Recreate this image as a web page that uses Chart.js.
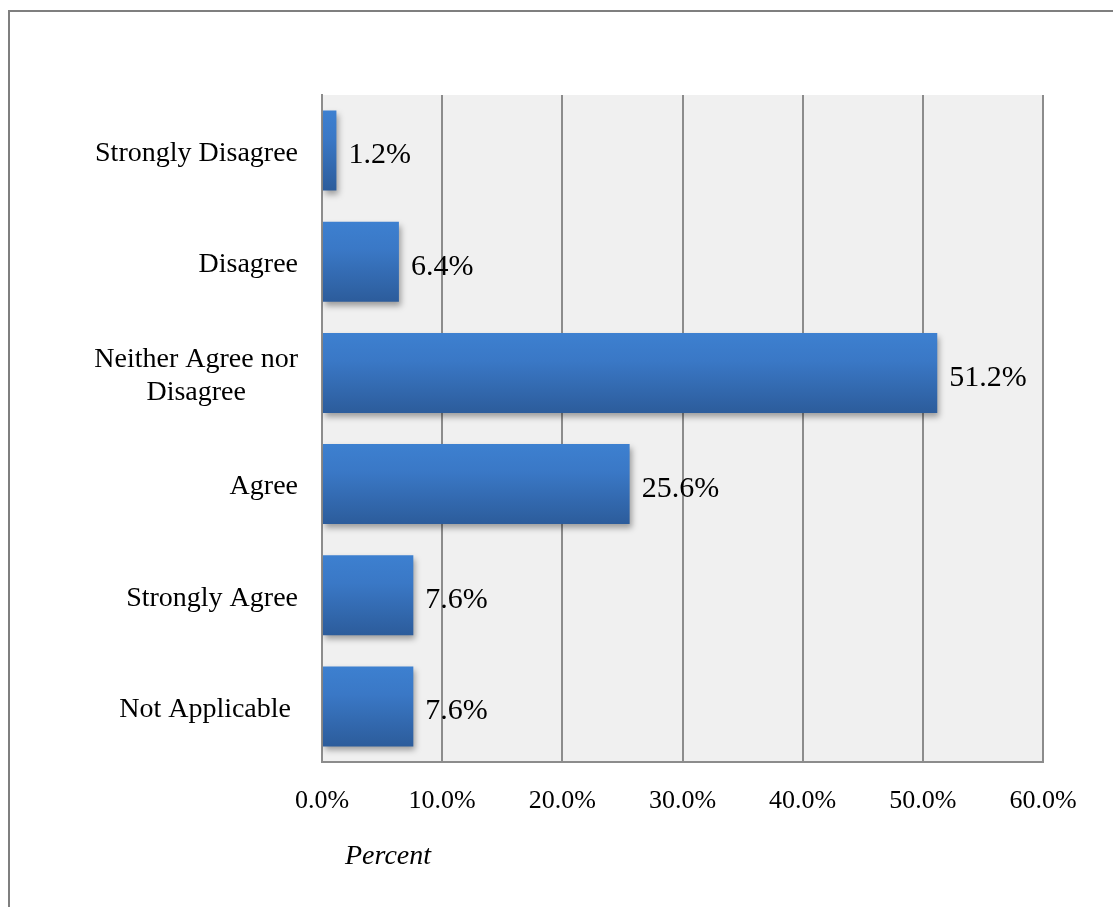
<!DOCTYPE html>
<html>
<head>
<meta charset="utf-8">
<script src="https://cdn.jsdelivr.net/npm/chart.js@4/dist/chart.umd.min.js"></script>
<style>
  html, body { margin: 0; padding: 0; background: #fff; }
  #wrap { position: relative; width: 1113px; height: 907px; }
  #frame { position: absolute; left: 8px; top: 10px; right: 0; bottom: 0;
           border-top: 2px solid #7f7f7f; border-left: 2px solid #7f7f7f; }
  canvas { position: absolute; left: 0; top: 0; }
</style>
</head>
<body>
<div id="wrap">
  <div id="frame"></div>
  <canvas id="myCanvas" width="1113" height="907"></canvas>
</div>
<script>
const categories = ["Strongly Disagree", "Disagree", ["Neither Agree nor", "Disagree"], "Agree", "Strongly Agree", "Not Applicable "];
const percents = [1.2, 6.4, 51.2, 25.6, 7.6, 7.6];
const tickValues = [0, 10, 20, 30, 40, 50, 60];
const axisTitle = "Percent";

const serif = "'Liberation Serif', 'Times New Roman', serif";
const gridGray = "#8c8c8c";

// plot background + outer labels
const decorations = {
    id: "decorations",
    beforeDraw(chart) {
        const { ctx, chartArea } = chart;
        ctx.save();
        ctx.fillStyle = "#f0f0f0";
        ctx.fillRect(chartArea.left, chartArea.top, chartArea.right - chartArea.left, chartArea.bottom - chartArea.top);
        ctx.restore();
    },
    beforeDatasetsDraw(chart) {
        const ctx = chart.ctx;
        ctx.save();
        ctx.shadowColor = "rgba(0,0,0,0.35)";
        ctx.shadowBlur = 6;
        ctx.shadowOffsetX = 2;
        ctx.shadowOffsetY = 4;
    },
    afterDatasetsDraw(chart) {
        const { ctx, chartArea } = chart;
        ctx.restore();
        const y = chart.scales.y;
        ctx.save();
        ctx.fillStyle = "#000";
        // category labels
        ctx.font = "28px " + serif;
        ctx.textBaseline = "middle";
        ctx.textAlign = "center";
        const right = chartArea.left - 24;
        categories.forEach((lab, i) => {
            const lines = Array.isArray(lab) ? lab : [lab];
            const w = Math.max(...lines.map(l => ctx.measureText(l).width));
            const cx = right - w / 2;
            const cy = y.getPixelForValue(i) + 3;
            const lh = 33;
            lines.forEach((l, j) => {
                ctx.fillText(l, cx, cy + (j - (lines.length - 1) / 2) * lh);
            });
        });
        // value labels
        ctx.font = "30px " + serif;
        ctx.textAlign = "left";
        const meta = chart.getDatasetMeta(0);
        meta.data.forEach((bar, i) => {
            ctx.fillText(percents[i].toFixed(1) + "%", bar.x + 12, bar.y + 5);
        });
        // axis title
        ctx.font = "italic 28px " + serif;
        ctx.textBaseline = "middle";
        ctx.fillText(axisTitle, chartArea.left + 23, 857);
        ctx.restore();
    }
};

function barGradient(context) {
    const chart = context.chart;
    const y = chart.scales && chart.scales.y;
    if (!y || !chart.chartArea) return "#3570b8";
    const cy = y.getPixelForValue(context.dataIndex);
    const h = (chart.chartArea.bottom - chart.chartArea.top) / categories.length * 0.72;
    const g = chart.ctx.createLinearGradient(0, cy - h / 2, 0, cy + h / 2);
    g.addColorStop(0, "#3d80d0");
    g.addColorStop(0.35, "#3a78c6");
    g.addColorStop(1, "#2c5c9b");
    return g;
}

new Chart(document.getElementById("myCanvas"), {
    type: "bar",
    data: {
        labels: categories,
        datasets: [{
            data: percents,
            backgroundColor: barGradient,
            borderWidth: 0,
            barPercentage: 0.72,
            categoryPercentage: 1
        }]
    },
    options: {
        indexAxis: "y",
        responsive: false,
        animation: false,
        layout: { padding: { left: 322, right: 70, top: 95, bottom: 85 } },
        plugins: { legend: { display: false }, tooltip: { enabled: false } },
        scales: {
            x: {
                min: 0,
                max: 60,
                afterBuildTicks(scale) {
                    scale.ticks = tickValues.map(v => ({ value: v }));
                },
                afterFit(scale) { scale.height = 60; },
                grid: { color: gridGray, lineWidth: 2, drawTicks: false },
                border: { color: gridGray, width: 2 },
                ticks: {
                    color: "#000",
                    padding: 24,
                    font: { family: serif, size: 26 },
                    maxRotation: 0,
                    callback: v => Number(v).toFixed(1) + "%"
                }
            },
            y: {
                afterFit(scale) { scale.width = 0; },
                grid: { display: false },
                border: { display: true, color: gridGray, width: 2 },
                ticks: { display: false }
            }
        }
    },
    plugins: [decorations]
});
</script>
</body>
</html>
